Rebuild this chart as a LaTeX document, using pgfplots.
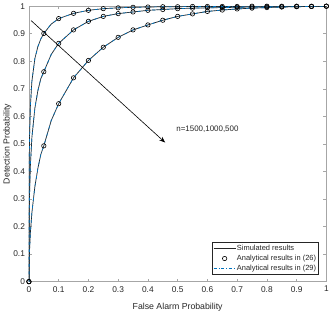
\documentclass[border=0pt]{standalone}
\usepackage{pgfplots}
\pgfplotsset{compat=1.18}
\usepackage{fontspec}
\setmainfont{Liberation Sans}
\usetikzlibrary{arrows.meta}
\definecolor{mblue}{rgb}{0,0.447,0.741}
\definecolor{axgray}{gray}{0.15}
\pgfplotsset{
  linelegend/.style={legend image code/.code={\draw[##1] (0bp,0bp) -- (22bp,0bp);}},
  marklegend/.style={legend image code/.code={\draw[##1] plot coordinates {(11bp,0bp)};}},
}
\begin{document}
\begin{tikzpicture}
\begin{axis}[
  scale only axis,
  width=298bp, height=276bp,
  xmin=0, xmax=1, ymin=0, ymax=1,
  xtick={0,0.1,...,1}, ytick={0,0.1,...,1},
  xticklabels={0,0.1,0.2,0.3,0.4,0.5,0.6,0.7,0.8,0.9,1},
  yticklabels={0,0.1,0.2,0.3,0.4,0.5,0.6,0.7,0.8,0.9,1},
  tick align=inside,
  major tick length=3bp,
  axis line style={draw=black!35, line width=0.6pt},
  tick style={draw=black!35, line width=0.5pt},
  ticklabel style={font=\fontsize{8.4}{9.5}\selectfont, text=axgray},
  xticklabel style={yshift=-1bp},
  yticklabel style={xshift=-0.5bp},
  xlabel={False Alarm Probability},
  ylabel={Detection Probability},
  label style={font=\fontsize{8.8}{10}\selectfont, text=axgray},
  xlabel style={yshift=-4bp},
  ylabel style={yshift=-5bp},
  legend style={at={(0.973,0.025)}, anchor=south east, font=\fontsize{7.5}{8.5}\selectfont,
    draw=axgray, line width=0.5pt, inner xsep=1pt, inner ysep=1.5pt, row sep=0pt, text=axgray,
    cells={anchor=west}, nodes={inner xsep=1pt, inner ysep=1.4pt}},
  legend cell align=left,
]
% ---------- n=1500 ----------
\addplot[black!85, line width=0.7pt, linelegend] coordinates {
(0,0)(0.001,0.437)(0.002,0.522)(0.005,0.639)(0.01,0.728)(0.02,0.810)(0.03,0.853)(0.04,0.881)(0.05,0.901)
(0.075,0.935)(0.1,0.955)(0.15,0.974)(0.2,0.985)(0.25,0.991)(0.3,0.994)(0.35,0.996)(0.4,0.997)(0.45,0.998)
(0.5,0.998)(0.55,0.999)(0.6,0.999)(0.65,0.999)(0.7,0.999)(0.75,1)(0.8,1)(0.85,1)(0.9,1)(0.95,1)(1,1)};
\addlegendentry{Simulated results}
\addplot[only marks, mark=o, mark size=2.2bp, black, line width=0.6pt, marklegend] coordinates {
(0,0)(0.05,0.901)(0.1,0.955)(0.15,0.974)(0.2,0.985)(0.25,0.991)(0.3,0.994)(0.35,0.996)(0.4,0.997)(0.45,0.998)
(0.5,0.998)(0.55,0.999)(0.6,0.999)(0.65,0.999)(0.7,0.999)(0.75,1)(0.8,1)(0.85,1)(0.9,1)(0.95,1)(1,1)};
\addlegendentry{Analytical results in (26)}
\addplot[mblue, dash dot, line width=0.7pt, linelegend] coordinates {
(0,0)(0.001,0.437)(0.002,0.522)(0.005,0.639)(0.01,0.728)(0.02,0.810)(0.03,0.853)(0.04,0.881)(0.05,0.901)
(0.075,0.935)(0.1,0.955)(0.15,0.974)(0.2,0.985)(0.25,0.991)(0.3,0.994)(0.35,0.996)(0.4,0.997)(0.45,0.998)
(0.5,0.998)(0.55,0.999)(0.6,0.999)(0.65,0.999)(0.7,0.999)(0.75,1)(0.8,1)(0.85,1)(0.9,1)(0.95,1)(1,1)};
\addlegendentry{Analytical results in (29)}
% ---------- n=1000 ----------
\addplot[black!85, line width=0.7pt, forget plot] coordinates {
(0,0)(0.001,0.240)(0.002,0.311)(0.005,0.424)(0.01,0.524)(0.02,0.630)(0.03,0.693)(0.04,0.737)(0.05,0.762)
(0.075,0.825)(0.1,0.865)(0.15,0.914)(0.2,0.945)(0.25,0.963)(0.3,0.973)(0.35,0.979)(0.4,0.985)(0.45,0.988)
(0.5,0.991)(0.55,0.993)(0.6,0.994)(0.65,0.995)(0.7,0.996)(0.75,0.997)(0.8,0.998)(0.85,0.998)(0.9,0.999)(0.95,0.999)(1,1)};
\addplot[only marks, mark=o, mark size=2.2bp, black, line width=0.6pt, forget plot] coordinates {
(0,0)(0.05,0.762)(0.1,0.865)(0.15,0.914)(0.2,0.945)(0.25,0.963)(0.3,0.973)(0.35,0.979)(0.4,0.985)(0.45,0.988)
(0.5,0.991)(0.55,0.993)(0.6,0.994)(0.65,0.995)(0.7,0.996)(0.75,0.997)(0.8,0.998)(0.85,0.998)(0.9,0.999)(0.95,0.999)(1,1)};
\addplot[mblue, dash dot, line width=0.7pt, forget plot] coordinates {
(0,0)(0.001,0.240)(0.002,0.311)(0.005,0.424)(0.01,0.524)(0.02,0.630)(0.03,0.693)(0.04,0.737)(0.05,0.762)
(0.075,0.825)(0.1,0.865)(0.15,0.914)(0.2,0.945)(0.25,0.963)(0.3,0.973)(0.35,0.979)(0.4,0.985)(0.45,0.988)
(0.5,0.991)(0.55,0.993)(0.6,0.994)(0.65,0.995)(0.7,0.996)(0.75,0.997)(0.8,0.998)(0.85,0.998)(0.9,0.999)(0.95,0.999)(1,1)};
% ---------- n=500 ----------
\addplot[black!85, line width=0.7pt, forget plot] coordinates {
(0,0)(0.001,0.076)(0.002,0.111)(0.005,0.179)(0.01,0.251)(0.02,0.345)(0.03,0.411)(0.04,0.462)(0.05,0.493)
(0.075,0.585)(0.1,0.646)(0.15,0.740)(0.2,0.803)(0.25,0.851)(0.3,0.887)(0.35,0.914)(0.4,0.932)(0.45,0.949)
(0.5,0.963)(0.55,0.972)(0.6,0.981)(0.65,0.986)(0.7,0.990)(0.75,0.993)(0.8,0.995)(0.85,0.997)(0.9,0.998)(0.95,0.999)(1,1)};
\addplot[only marks, mark=o, mark size=2.2bp, black, line width=0.6pt, forget plot] coordinates {
(0,0)(0.05,0.493)(0.1,0.646)(0.15,0.740)(0.2,0.803)(0.25,0.851)(0.3,0.887)(0.35,0.914)(0.4,0.932)(0.45,0.949)
(0.5,0.963)(0.55,0.972)(0.6,0.981)(0.65,0.986)(0.7,0.990)(0.75,0.993)(0.8,0.995)(0.85,0.997)(0.9,0.998)(0.95,0.999)(1,1)};
\addplot[mblue, dash dot, line width=0.7pt, forget plot] coordinates {
(0,0)(0.001,0.076)(0.002,0.111)(0.005,0.179)(0.01,0.251)(0.02,0.345)(0.03,0.411)(0.04,0.462)(0.05,0.493)
(0.075,0.585)(0.1,0.646)(0.15,0.740)(0.2,0.803)(0.25,0.851)(0.3,0.887)(0.35,0.914)(0.4,0.932)(0.45,0.949)
(0.5,0.963)(0.55,0.972)(0.6,0.981)(0.65,0.986)(0.7,0.990)(0.75,0.993)(0.8,0.995)(0.85,0.997)(0.9,0.998)(0.95,0.999)(1,1)};
% ---------- annotation ----------
\draw[black, line width=0.6pt, -{Stealth[length=6bp,width=4.5bp]}] (axis cs:0.007,0.948) -- (axis cs:0.458,0.505);
\node[anchor=west, inner sep=0pt, font=\fontsize{8}{9}\selectfont, text=axgray] at (axis cs:0.495,0.553) {n=1500,1000,500};
\end{axis}
\end{tikzpicture}
\end{document}
